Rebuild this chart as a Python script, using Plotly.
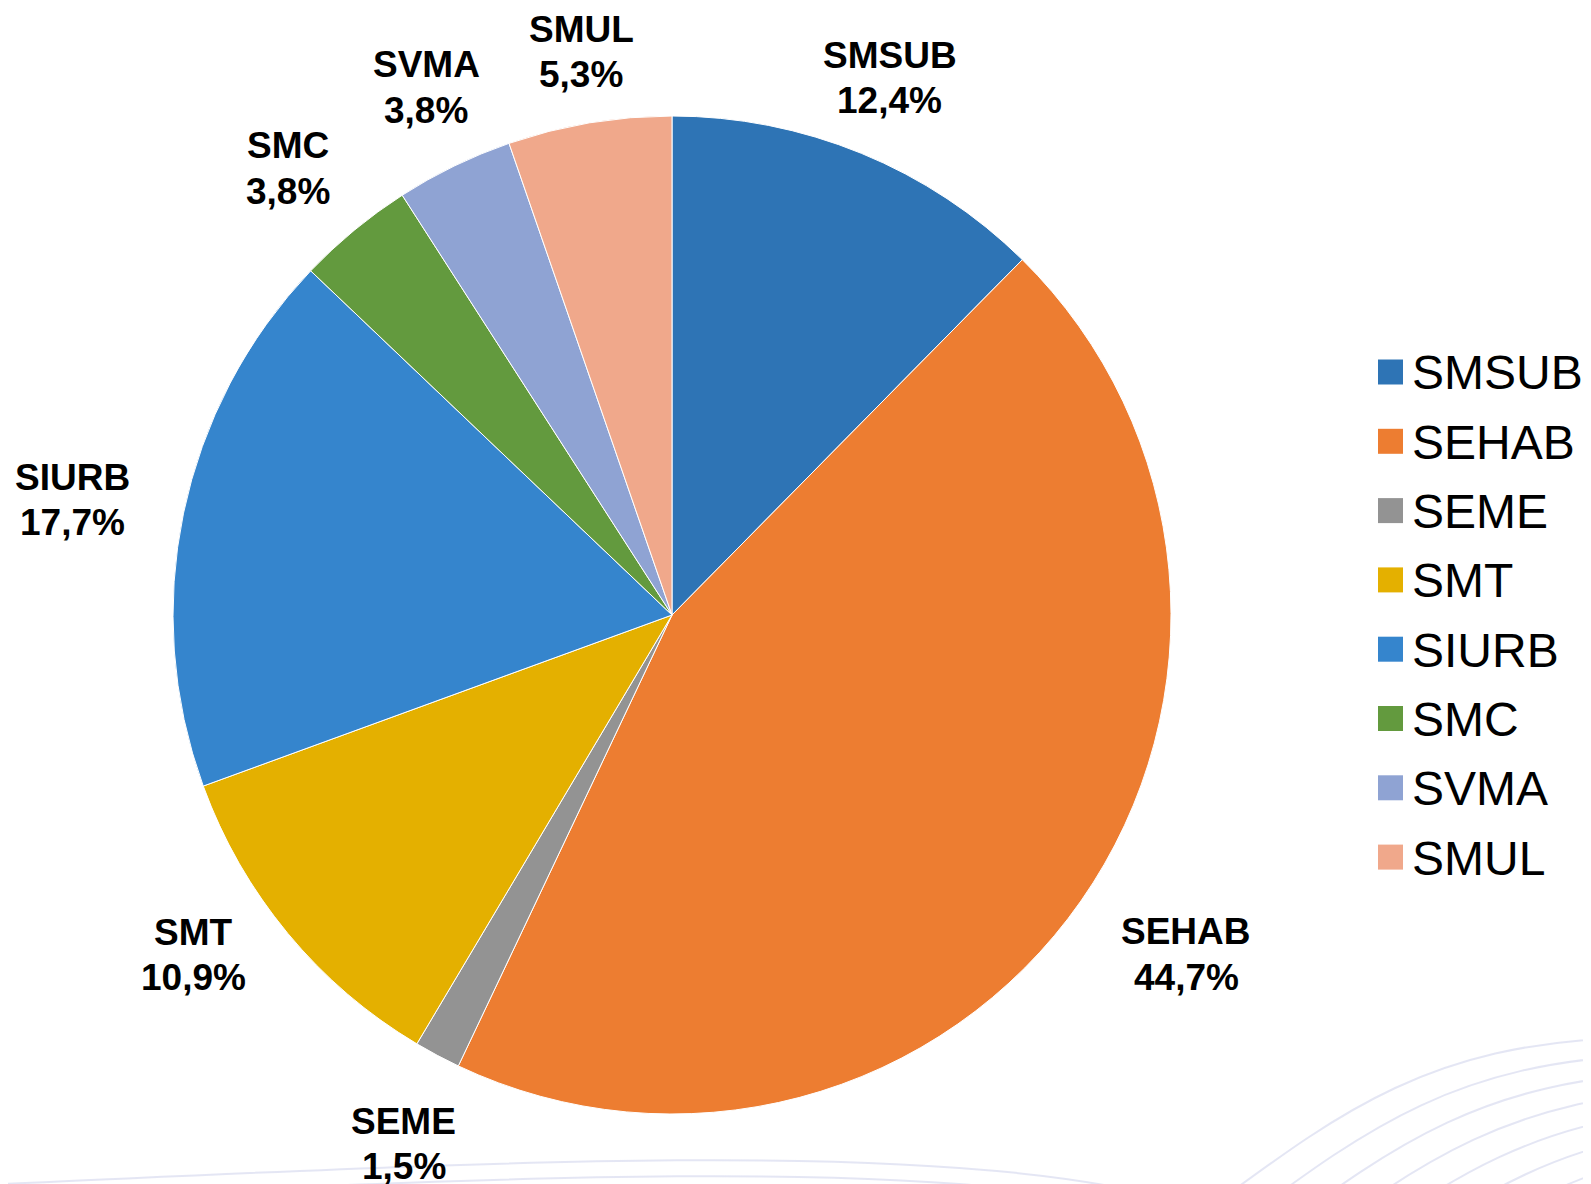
import math
import plotly.graph_objects as go

# ---- data ----
categories = ["SMSUB", "SEHAB", "SEME", "SMT", "SIURB", "SMC", "SVMA", "SMUL"]
shares = [12.4, 44.7, 1.5, 10.9, 17.7, 3.8, 3.8, 5.3]
colors = ["#2E74B5", "#ED7D31", "#939393", "#E4B000", "#3585CD", "#639A3E", "#8FA3D3", "#F0A88B"]

# ---- layout tweaks (label nudges in px, applied after radial placement) ----
label_nudge = [(-3, 4), (21, -2), (7, 15), (-17, -39), (-3, 12), (-6, 14), (9, 1), (4, 4)]

W, H = 1591, 1184
OFF = 8                      # page body margin shift
CX, CY, R = 672, 615, 499    # pie centre / radius in target px
LINE_GAP = 45.7


def px2paper(x, y):
    return (x - OFF) / W, 1 - (y - OFF) / H


x0, y0 = px2paper(CX - R, CY + R)
x1, y1 = px2paper(CX + R, CY - R)

fig = go.Figure()
fig.add_trace(go.Pie(
    labels=categories,
    values=shares,
    sort=False,
    direction="clockwise",
    rotation=0,
    textinfo="none",
    hoverinfo="label+percent",
    marker=dict(colors=colors, line=dict(color="white", width=1)),
    domain=dict(x=[x0, x1], y=[y0, y1]),
    showlegend=False,
))


def fmt(v):
    return f"{v:.1f}".replace(".", ",") + "%"


LABEL_FONT = dict(family="Liberation Sans, Arial, sans-serif", size=37, color="#000000")
annotations = []
total = sum(shares)
cum = 0.0
for (name, v), (nx, ny) in zip(zip(categories, shares), label_nudge):
    mid = (cum + v / 2) / total * 2 * math.pi
    cum += v
    s, c = math.sin(mid), math.cos(mid)
    rl = R * (1.131 + 0.091 * abs(s))
    lx = CX + rl * s + nx * 1.0147
    ly = CY - rl * c - 3 + ny * 1.0147
    for txt, yy in ((name, ly - LINE_GAP / 2), (fmt(v), ly + LINE_GAP / 2)):
        ax, ay = px2paper(lx, yy)
        annotations.append(dict(
            x=ax, y=ay, xref="paper", yref="paper",
            text=f"<b>{txt}</b>", showarrow=False,
            xanchor="center", yanchor="middle", align="center",
            font=LABEL_FONT,
        ))

# legend with large square keys
shapes = []
LX0, LY0, LDY, SQ = 1378, 372, 69.3, 25
for i, (name, col) in enumerate(zip(categories, colors)):
    yc = LY0 + i * LDY
    sx0, sy0 = px2paper(LX0, yc + SQ / 2)
    sx1, sy1 = px2paper(LX0 + SQ, yc - SQ / 2)
    shapes.append(dict(type="rect", xref="paper", yref="paper",
                       x0=sx0, x1=sx1, y0=sy0, y1=sy1,
                       fillcolor=col, line=dict(width=0)))
    tx, ty = px2paper(LX0 + SQ + 7, yc + 1)
    annotations.append(dict(
        x=tx, y=ty, xref="paper", yref="paper",
        text=name, showarrow=False, xanchor="left", yanchor="middle",
        font=dict(family="Liberation Sans, Arial, sans-serif", size=48, color="#000000"),
    ))


# faint decorative background waves
def path_from(points):
    p = [px2paper(x, y) for x, y in points]
    return "M {:.5f},{:.5f} C {:.5f},{:.5f} {:.5f},{:.5f} {:.5f},{:.5f}".format(
        p[0][0], p[0][1], p[1][0], p[1][1], p[2][0], p[2][1], p[3][0], p[3][1])


WAVE = "rgba(205,210,235,0.55)"
for k in range(9):
    dx, dy = 26 * k, 17.3 * k
    shapes.append(dict(type="path", xref="paper", yref="paper", layer="below",
                       path=path_from([(1200 + dx, 1215 + dy), (1330 + dx, 1120 + dy),
                                       (1420 + dx, 1045 + dy), (1620 + dx, 1038 + dy)]),
                       line=dict(color=WAVE, width=2)))
for k in range(2):
    dy = 16 * k
    shapes.append(dict(type="path", xref="paper", yref="paper", layer="below",
                       path=path_from([(0, 1184 + dy), (420, 1166 + dy),
                                       (860, 1140 + dy), (1110, 1186 + dy)]),
                       line=dict(color=WAVE, width=2)))

fig.update_layout(
    width=W, height=H,
    margin=dict(l=0, r=0, t=0, b=0),
    paper_bgcolor="white",
    plot_bgcolor="white",
    annotations=annotations,
    shapes=shapes,
)

fig.write_html("out.html")
